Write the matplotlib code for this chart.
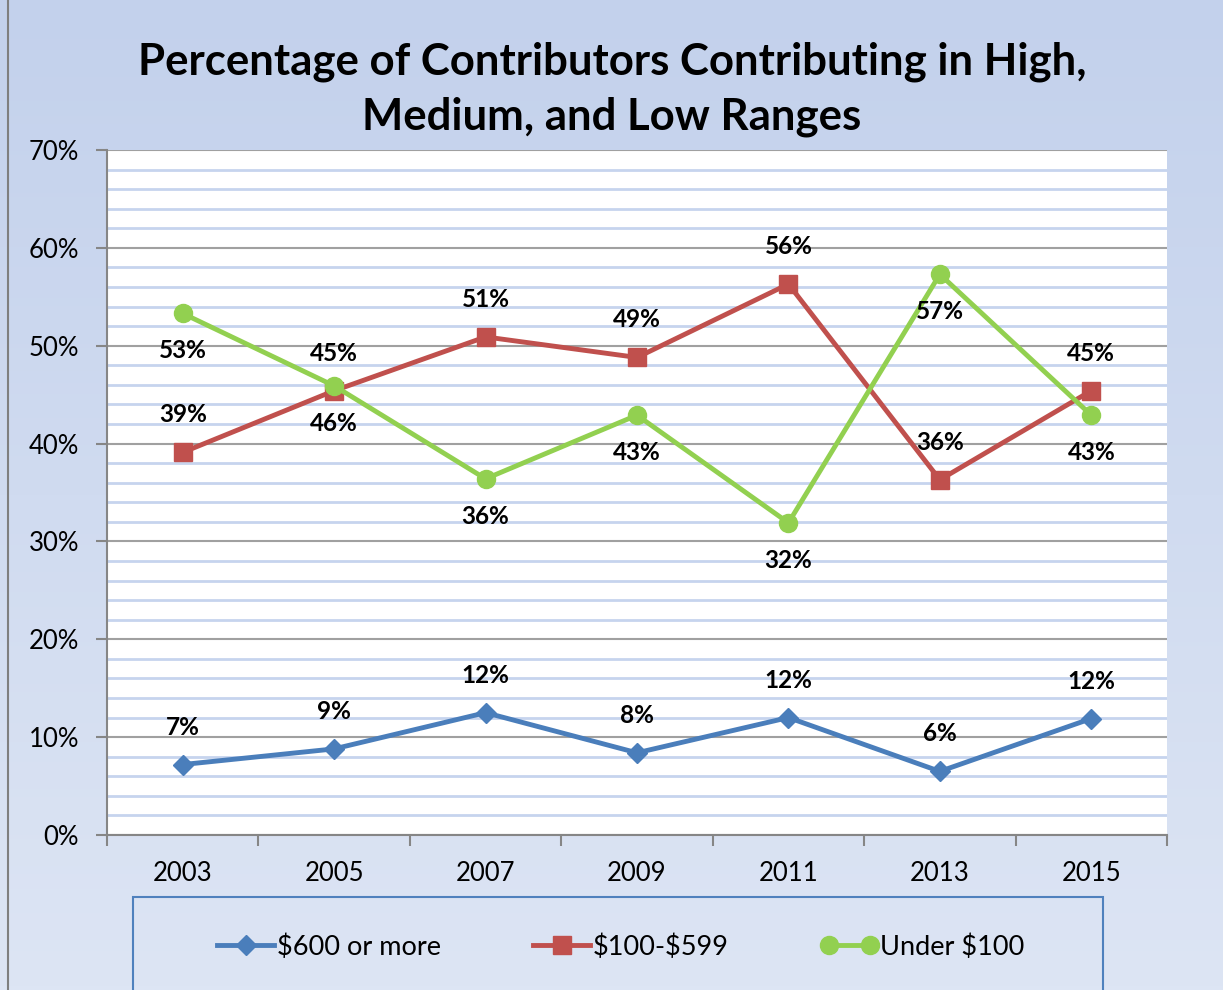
import numpy as np
import matplotlib
matplotlib.use("Agg")
import matplotlib.pyplot as plt
from matplotlib.ticker import MultipleLocator, PercentFormatter
from matplotlib.lines import Line2D
from matplotlib.legend_handler import HandlerLine2D
from matplotlib.patches import Rectangle

plt.rcParams['font.family'] = ['Lato', 'DejaVu Sans']

years = ["2003", "2005", "2007", "2009", "2011", "2013", "2015"]
high = [7.2, 8.8, 12.5, 8.4, 12.0, 6.5, 11.9]
medium = [39.1, 45.4, 50.9, 48.8, 56.3, 36.3, 45.4]
low = [53.3, 45.9, 36.4, 42.9, 31.9, 57.3, 42.9]
names = ["\\$600 or more", "\\$100-\\$599", "Under \\$100"]

blue = "#4A7EBB"
red = "#C0504D"
green = "#92D050"

fig = plt.figure(figsize=(12.23, 9.9), dpi=100)

# background gradient
bg = fig.add_axes([0, 0, 1, 1], zorder=-10)
grad = np.linspace(0, 1, 256).reshape(-1, 1)
top_c = np.array([0xC3, 0xD1, 0xEC]) / 255
bot_c = np.array([0xDD, 0xE5, 0xF4]) / 255
img = top_c + (bot_c - top_c) * grad[:, :, None]
bg.imshow(img, aspect="auto", extent=[0, 1, 0, 1])
bg.plot([8 / 1223, 8 / 1223], [0, 1], color="#7F7F7F", lw=1.5)
bg.set_xlim(0, 1)
bg.set_ylim(0, 1)
bg.axis("off")

ax = fig.add_axes([107 / 1223, 1 - 835 / 990, 1060 / 1223, 685 / 990])
ax.set_facecolor("white")
x = np.arange(len(years))

ax.plot(x, high, color=blue, lw=3.5, marker="D", ms=10, zorder=5)
ax.plot(x, medium, color=red, lw=3.5, marker="s", ms=13, zorder=5)
ax.plot(x, low, color=green, lw=3.5, marker="o", ms=13, zorder=6)

lab = dict(ha="center", va="center", fontsize=17.5, fontweight="bold",
           textcoords="offset points", zorder=7)
for i in range(len(years)):
    ax.annotate(f"{round(high[i])}%", (x[i], high[i]), xytext=(0, 27), **lab)
    ax.annotate(f"{round(medium[i])}%", (x[i], medium[i]), xytext=(0, 27), **lab)
    ax.annotate(f"{round(low[i])}%", (x[i], low[i]), xytext=(0, -27), **lab)

ax.set_xlim(-0.5, len(years) - 0.5)
ax.set_ylim(0, 70)
ax.yaxis.set_major_locator(MultipleLocator(10))
ax.yaxis.set_minor_locator(MultipleLocator(2))
ax.yaxis.set_major_formatter(PercentFormatter(xmax=100, decimals=0))
ax.grid(axis="y", which="minor", color="#C6D4EE", lw=2)
ax.grid(axis="y", which="major", color="#A0A0A0", lw=1.5)
ax.set_axisbelow(True)

ax.set_xticks(x)
ax.set_xticklabels(years)
ax.set_xticks(np.arange(-0.5, len(years)), minor=True)
ax.tick_params(axis="x", which="major", length=0, pad=19, labelsize=18.5)
ax.tick_params(axis="x", which="minor", length=8, width=1.5, color="#868686")
ax.tick_params(axis="y", which="major", length=8, width=1.5, color="#868686",
               labelsize=18.5, pad=12)
ax.tick_params(axis="y", which="minor", length=0)

for s in ["top", "right"]:
    ax.spines[s].set_visible(False)
for s in ["left", "bottom"]:
    ax.spines[s].set_color("#868686")
    ax.spines[s].set_linewidth(1.5)

fig.text(612 / 1223, 1 - 89 / 990,
         "Percentage of Contributors Contributing in High,\nMedium, and Low Ranges",
         ha="center", va="center", fontsize=31.5, fontweight="bold", linespacing=1.45)

# legend box
fig.patches.append(Rectangle((133 / 1223, -0.05), 970 / 1223, 0.05 + 1 - 897 / 990,
                             transform=fig.transFigure, fill=False,
                             edgecolor="#4F81BD", lw=1.5))
h1 = Line2D([], [], color=blue, lw=3.5, marker="D", ms=10)
h2 = Line2D([], [], color=red, lw=3.5, marker="s", ms=13)
h3 = Line2D([], [], color=green, lw=3.5, marker="o", ms=13)
fig.legend([h1, h2, h3], names, loc="center", bbox_to_anchor=(621 / 1223, 1 - 947 / 990),
           ncol=3, frameon=False, fontsize=19.5, numpoints=1, handlelength=2.1,
           handletextpad=0.1, columnspacing=3.4,
           handler_map={h3: HandlerLine2D(numpoints=2)})

fig.savefig("out.png", dpi=100)
